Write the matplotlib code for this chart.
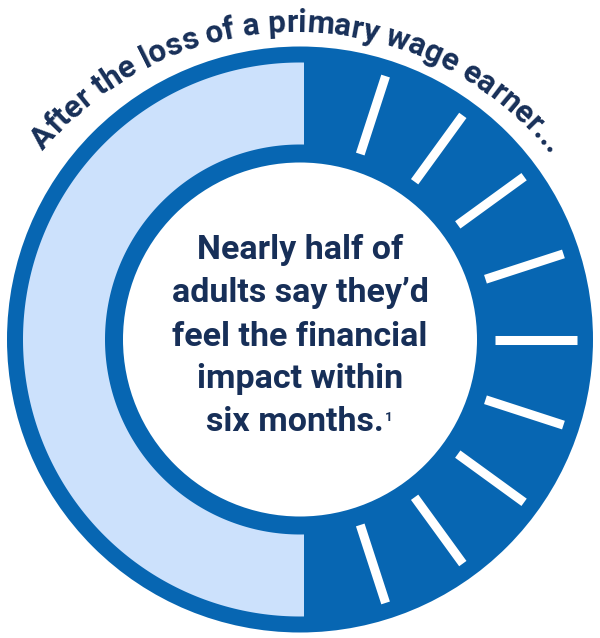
import numpy as np
import matplotlib.pyplot as plt
from matplotlib.patches import Circle, Polygon
from matplotlib.font_manager import FontProperties, findfont
from matplotlib.ft2font import FT2Font

# chart content
share_light = 0.5          # "nearly half" -> left half of the ring
tick_count = 9             # white tick marks on the dark half
arc_title = "After the loss of a primary wage earner..."
center_lines = ["Nearly half of", "adults say they\u2019d", "feel the financial",
                "impact within", "six months."]
footnote = "1"

dark = "#0766b2"
light = "#cce1fc"
navy = "#172f58"

W, H = 600, 638
fig = plt.figure(figsize=(W / 100, H / 100), dpi=100)
ax = fig.add_axes([0, 0, 1, 1])
ax.set_xlim(0, W)
ax.set_ylim(0, H)
ax.axis('off')

cx, cy = 300, H - 339.5
r_out, r_band_out, r_band_in, r_white = 293, 277, 195, 177

ax.add_patch(Circle((cx, cy), r_out, color=dark, lw=0))

# light half band with straight ends just right of centre
off = 4
half = share_light * 2 * np.pi
a0 = np.arccos(off / r_band_out)
a1 = np.arccos(off / r_band_in)
t_out = np.linspace(a0, a0 + half - 2 * (a0 - np.pi / 2), 200)
t_in = np.linspace(a1 + half - 2 * (a1 - np.pi / 2), a1, 200)
pts = np.vstack([np.c_[cx + r_band_out * np.cos(t_out), cy + r_band_out * np.sin(t_out)],
                 np.c_[cx + r_band_in * np.cos(t_in), cy + r_band_in * np.sin(t_in)]])
ax.add_patch(Polygon(pts, closed=True, color=light, lw=0))

# ticks on the dark half
step = np.pi / (tick_count + 1)
for i in range(tick_count):
    a = -np.pi / 2 + step * (i + 1)
    ax.plot([cx + r_band_in * np.cos(a), cx + r_band_out * np.cos(a)],
            [cy + r_band_in * np.sin(a), cy + r_band_out * np.sin(a)],
            color='white', lw=6.5, solid_capstyle='butt')

ax.add_patch(Circle((cx, cy), r_white, color='white', lw=0))

# centre text
font = 'Roboto'
c_size = 24.5
baselines = [259, 302, 346, 388, 431]
txts = []
for line, by in zip(center_lines, baselines):
    x = 300 if line != center_lines[-1] else 295
    txts.append(ax.text(x, H - by, line, ha='center', va='baseline', fontsize=c_size,
                        fontfamily=font, fontweight='bold', color=navy))
fig.canvas.draw()
rend = fig.canvas.get_renderer()
bb = txts[-1].get_window_extent(rend)
ax.text(bb.x1 + 0.5, H - 421, footnote, ha='left', va='baseline', fontsize=9.5,
        fontfamily=font, fontweight='bold', color=navy)

# curved title along an arc
t_size_pt = 22.7
prop = FontProperties(family=font, weight='bold')
ft = FT2Font(findfont(prop))
ft.set_size(t_size_pt, 100)
adv = []
for ch in arc_title:
    g = ft.load_char(ord(ch))
    adv.append(g.linearHoriAdvance / 65536)
adv = np.array(adv)
total = adv.sum()
acx, acy, R = 295, H - 357, 325
mid = np.deg2rad(89.6)
pos = np.cumsum(adv) - adv / 2 - total / 2
for ch, s in zip(arc_title, pos):
    a = mid - s / R
    ax.text(acx + R * np.cos(a), acy + R * np.sin(a), ch, ha='center', va='baseline',
            rotation=np.rad2deg(a) - 90, rotation_mode='anchor', fontsize=t_size_pt,
            fontfamily=font, fontweight='bold', color=navy)

fig.savefig('out.png', dpi=100)
